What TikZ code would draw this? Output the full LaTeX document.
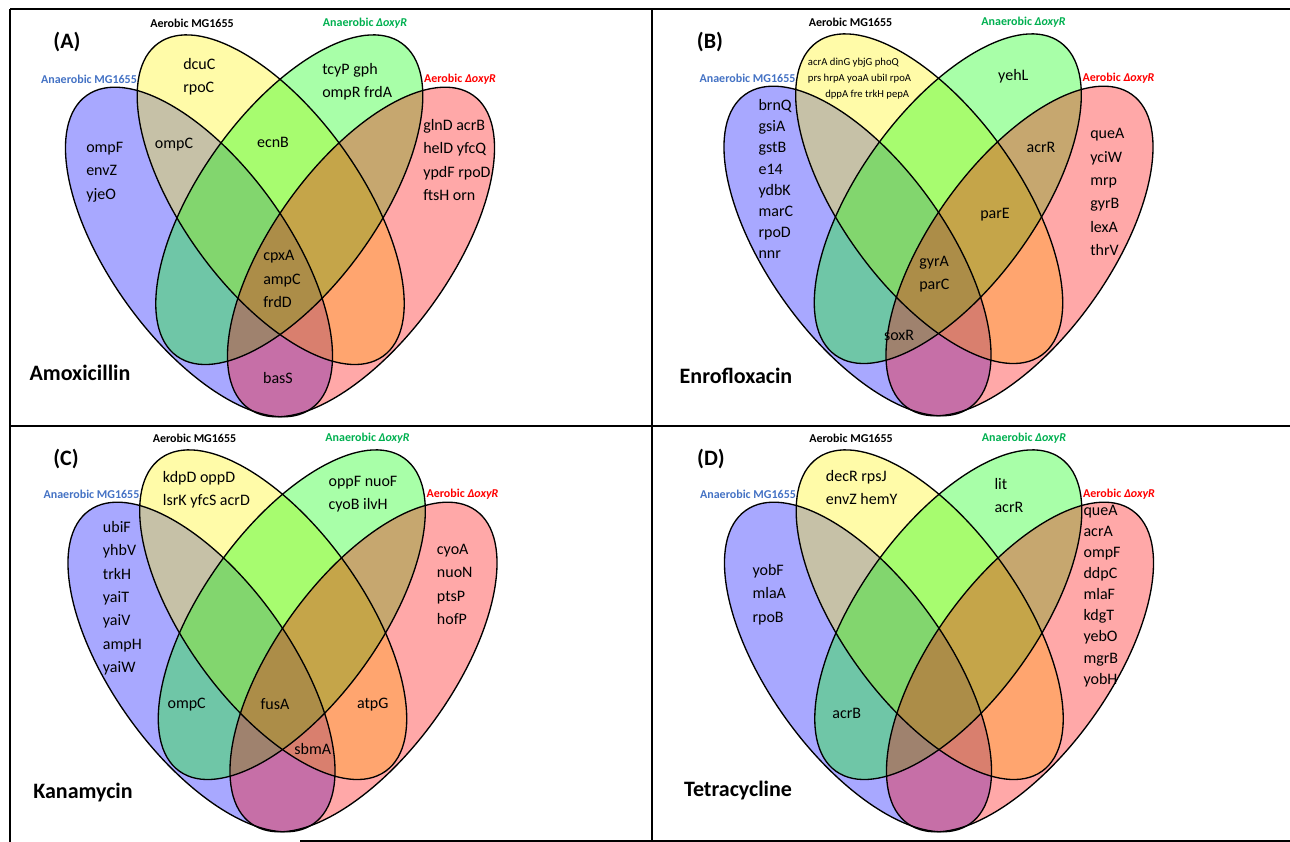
\documentclass[tikz,border=0pt]{standalone}
\usepackage{fontspec}
\setmainfont{Carlito}
\usepackage{tikz}
\usetikzlibrary{calc,positioning}

\definecolor{setblue}{RGB}{68,114,196}
\definecolor{setgreen}{RGB}{0,176,80}

\tikzstyle{setfill} = [fill opacity=0.34]
\tikzstyle{setline} = [draw=black, line width=1pt]
\tikzstyle{setlabel} = [font=\fontsize{9}{11}\selectfont\bfseries, inner sep=0pt]
\tikzstyle{gene} = [font=\fontsize{12}{17.5}\selectfont, align=left, anchor=west, inner sep=0pt]
\tikzstyle{genetight} = [gene, font=\fontsize{12}{15.8}\selectfont]
\tikzstyle{genec} = [font=\fontsize{12}{14}\selectfont, inner sep=0pt]
\tikzstyle{genesmall} = [font=\fontsize{8}{10}\selectfont, anchor=west, inner sep=0pt]
\tikzstyle{panel} = [font=\fontsize{16.5}{20}\selectfont\bfseries, inner sep=0pt]
\tikzstyle{frame} = [line width=1.5pt]

% the four ellipses and set names of one panel, #1 = panel letter
\newcommand{\vennsets}[1]{
    \fill[setfill, blue] (199,252) ellipse [x radius=144.5pt, y radius=66.5pt, rotate=-54.3];
    \fill[setfill, yellow] (270.7,199.7) ellipse [x radius=144.5pt, y radius=66.5pt, rotate=-54.3];
    \fill[setfill, green] (289.3,199.7) ellipse [x radius=144.5pt, y radius=66.5pt, rotate=54.3];
    \fill[setfill, red] (361,252) ellipse [x radius=144.5pt, y radius=66.5pt, rotate=54.3];
    \draw[setline] (199,252) ellipse [x radius=144.5pt, y radius=66.5pt, rotate=-54.3];
    \draw[setline] (270.7,199.7) ellipse [x radius=144.5pt, y radius=66.5pt, rotate=-54.3];
    \draw[setline] (289.3,199.7) ellipse [x radius=144.5pt, y radius=66.5pt, rotate=54.3];
    \draw[setline] (361,252) ellipse [x radius=144.5pt, y radius=66.5pt, rotate=54.3];
    \node (#1anmg) [setlabel, text=setblue] at (89,79) {Anaerobic MG1655};
    \node (#1aemg) [setlabel] at (192,23) {Aerobic MG1655};
    \node (#1anox) [setlabel, text=setgreen] at (365,23) {Anaerobic \textit{ΔoxyR}};
    \node (#1aeox) [setlabel, text=red] at (460,79) {Aerobic \textit{ΔoxyR}};
}

\begin{document}
\begin{tikzpicture}[x=0.75pt, y=-0.75pt]
    \useasboundingbox (0,0) rectangle (1290,842);

    % frame
    \draw[frame] (10,9) -- (1290,9);
    \draw[frame] (10,9) -- (10,842);
    \draw[frame] (652,9) -- (652,842);
    \draw[frame] (10,426) -- (1290,426);
    \draw[frame] (300,841) -- (1290,841);

    % (A) Amoxicillin
    \begin{scope}[shift={(0,0)}]
        \vennsets{A}
        \node (amx1) [gene] at (183,77) {dcuC\\rpoC};
        \node (amx2) [gene] at (322,82) {tcyP gph\\ompR frdA};
        \node (amx3) [gene] at (86,172) {ompF\\envZ\\yjeO};
        \node (amx4) [genec] at (174,145) {ompC};
        \node (amx5) [genec] at (273,142) {ecnB};
        \node (amx6) [gene] at (423,160) {glnD acrB\\helD yfcQ\\ypdF rpoD\\ftsH orn};
        \node (amx7) [gene] at (263,279) {cpxA\\ampC\\frdD};
        \node (amx8) [genec] at (278,378) {basS};
    \end{scope}

    % (B) Enrofloxacin
    \begin{scope}[shift={(658.5,-1)}]
        \vennsets{B}
        \node (enr1) [genesmall] at (149.2,64) {acrA dinG ybjG phoQ};
        \node (enr2) [genesmall] at (149.2,80) {prs hrpA yoaA ubiI rpoA};
        \node (enr3) [genesmall] at (166.5,96) {dppA fre trkH pepA};
        \node (enr4) [genec] at (354.8,77) {yehL};
        \node (enr5) [genetight] at (99.8,180) {brnQ\\gsiA\\gstB\\e14\\ydbK\\marC\\rpoD\\nnr};
        \node (enr6) [genec] at (382.5,148) {acrR};
        \node (enr7) [gene] at (431.5,193) {queA\\yciW\\mrp\\gyrB\\lexA\\thrV};
        \node (enr8) [genec] at (336.5,216) {parE};
        \node (enr9) [gene] at (260.5,275) {gyrA\\parC};
        \node (enr10) [genec] at (240.5,336) {soxR};
    \end{scope}

    % (C) Kanamycin
    \begin{scope}[shift={(2.5,415)}]
        \vennsets{C}
        \node (kan1) [gene] at (160.2,74.7) {kdpD oppD\\lsrK yfcS acrD};
        \node (kan2) [gene] at (325.8,79) {oppF nuoF\\cyoB ilvH};
        \node (kan3) [gene] at (100.2,183.3) {ubiF\\yhbV\\trkH\\yaiT\\yaiV\\ampH\\yaiW};
        \node (kan4) [gene] at (434.2,169.3) {cyoA\\nuoN\\ptsP\\hofP};
        \node (kan5) [genec] at (184.2,290) {ompC};
        \node (kan6) [genec] at (272.5,288.7) {fusA};
        \node (kan7) [genec] at (370.2,290) {atpG};
        \node (kan8) [genec] at (310.2,334.3) {sbmA};
    \end{scope}

    % (D) Tetracycline
    \begin{scope}[shift={(659,415)}]
        \vennsets{D}
        \node (tet1) [gene] at (166.7,72.7) {decR rpsJ\\envZ hemY};
        \node (tet2) [gene] at (335.3,80.3) {lit\\acrR};
        \node (tet3) [gene] at (93.3,179.7) {yobF\\mlaA\\rpoB};
        \node (tet4) [genetight] at (424.3,181) {queA\\acrA\\ompF\\ddpC\\mlaF\\kdgT\\yebO\\mgrB\\yobH};
        \node (tet5) [genec] at (187.7,298.7) {acrB};
    \end{scope}

    % panel letters and drug names
    \node (letA) [panel] at (67,42) {(A)};
    \node (letB) [panel] at (710,42) {(B)};
    \node (letC) [panel] at (66,459) {(C)};
    \node (letD) [panel] at (711,459) {(D)};
    \node (drugA) [panel] at (80,373) {Amoxicillin};
    \node (drugB) [panel] at (736,376) {Enrofloxacin};
    \node (drugC) [panel] at (83,793) {Kanamycin};
    \node (drugD) [panel] at (738,791) {Tetracycline};
\end{tikzpicture}
\end{document}
